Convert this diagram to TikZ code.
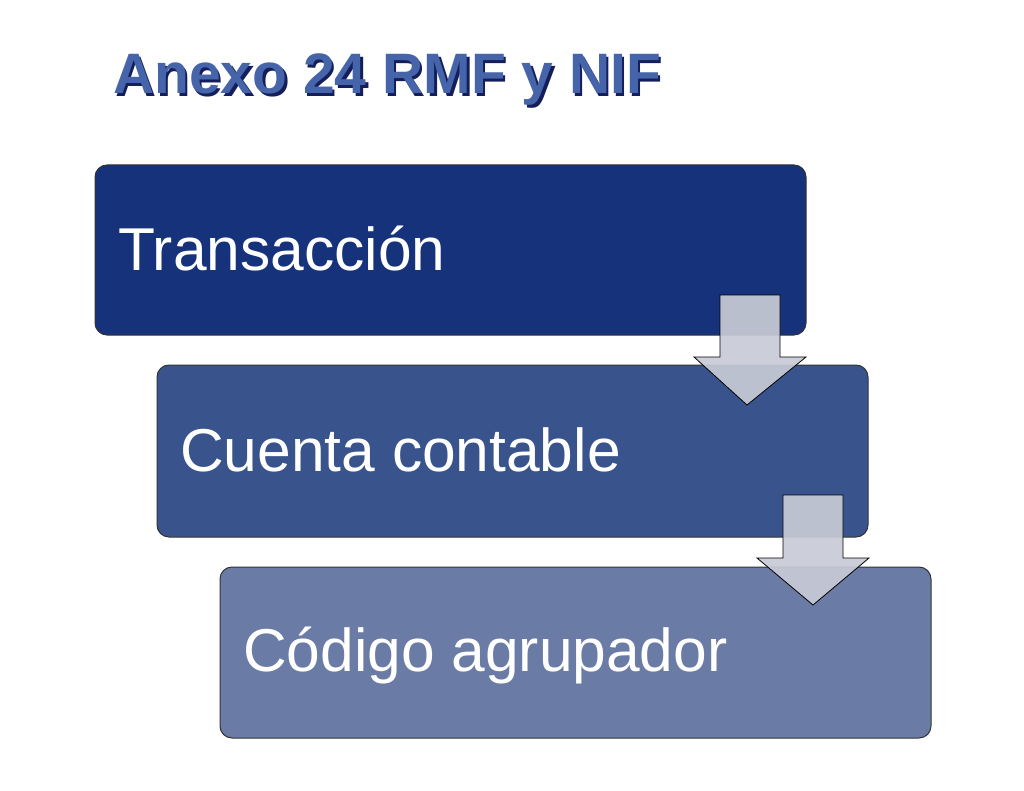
\documentclass[tikz,border=0pt]{standalone}
\usepackage{fontspec}
\setmainfont{Liberation Sans}
\definecolor{bA}{RGB}{22,50,122}
\definecolor{bB}{RGB}{57,84,140}
\definecolor{bC}{RGB}{106,124,165}
\definecolor{arr}{RGB}{200,203,214}
\definecolor{ttl}{RGB}{70,100,170}
\definecolor{ttlo}{RGB}{20,30,90}
\begin{document}
\begin{tikzpicture}[x=1pt,y=-1pt,
 boxst/.style={draw=black!80,line width=1pt,rounded corners=12pt},
 lbl/.style={anchor=base west,text=white,font=\fontsize{60.5}{66}\selectfont,inner sep=0pt},
 arrst/.style={draw=black,line width=0.8pt,fill=arr,fill opacity=0.92}]
\useasboundingbox (0,0) rectangle (1024,791);
\node[anchor=base west,inner sep=0pt,font=\fontsize{57}{64}\selectfont\bfseries,text=ttlo] at (115.5,96.5) {Anexo 24 RMF y NIF};
\node[anchor=base west,inner sep=0pt,font=\fontsize{57}{64}\selectfont\bfseries,text=ttl] (title) at (113,94) {Anexo 24 RMF y NIF};
\filldraw[boxst,fill=bA] (95,165) rectangle (806,335);
\node[lbl] (t1) at (118,271) {Transacción};
\filldraw[boxst,fill=bB] (157,365) rectangle (868,537);
\node[lbl] (t2) at (180,471) {Cuenta contable};
\filldraw[arrst] (720,295) -- (780,295) -- (780,357) -- (806,357) -- (747,405) -- (694,357) -- (720,357) -- cycle;
\filldraw[boxst,fill=bC] (220,567) rectangle (931,738);
\node[lbl] (t3) at (243,671) {Código agrupador};
\filldraw[arrst] (783,495) -- (843,495) -- (843,558) -- (869,558) -- (813,605) -- (757,558) -- (783,558) -- cycle;
\end{tikzpicture}
\end{document}
